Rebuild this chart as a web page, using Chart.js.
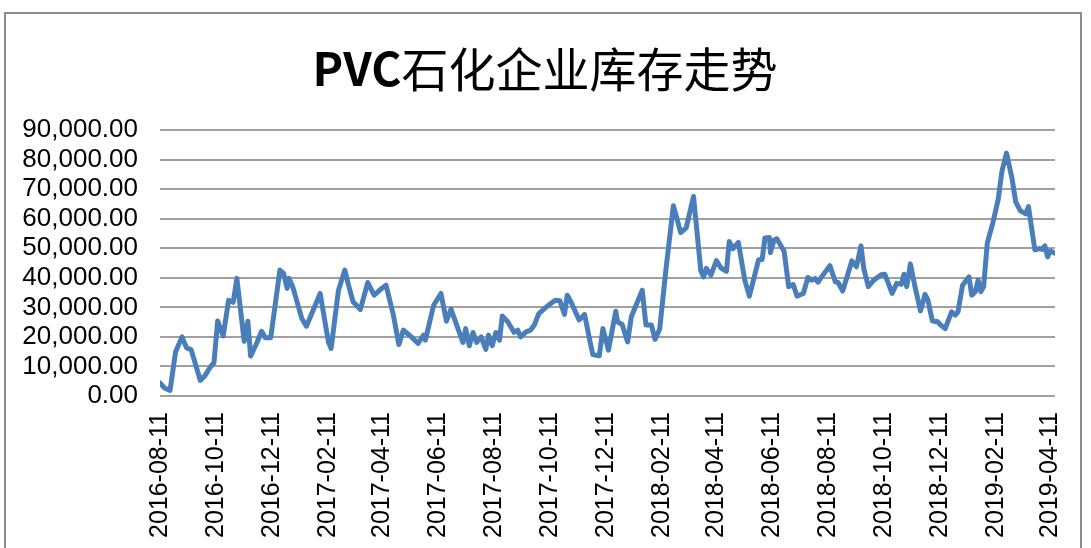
<!DOCTYPE html>
<html>
<head>
<meta charset="utf-8">
<script src="https://cdn.jsdelivr.net/npm/chart.js@4.4.0/dist/chart.umd.min.js"></script>
<style>
html, body { margin: 0; padding: 0; background: #fff; overflow: hidden; }
#wrap { position: relative; width: 1091px; height: 548px; }
#frame { position: absolute; left: 4px; top: 12px; width: 1078px; height: 600px; border: 2px solid #8c8c8c; box-sizing: border-box; }
canvas { position: absolute; left: 0; top: 0; }
</style>
</head>
<body>
<div id="wrap">
  <div id="frame"></div>
  <canvas id="inventoryChart" width="1091" height="548"></canvas>
</div>
<script>
const startDate = '2016-08-11';
// days after startDate
const dayOffsets = [0,5,11,17,24,29,34,44,49,55,59,63,69,75,80,84,92,96,99,106,111,115,121,131,135,139,141,145,155,160,
  175,184,187,195,202,206,211,219,227,234,241,247,255,261,266,274,282,288,290,299,307,313,318,331,334,338,342,346,351,356,
  359,363,367,371,374,380,387,391,394,400,405,409,414,421,427,432,437,442,445,449,458,464,470,473,480,484,490,498,500,505,
  511,515,527,531,537,541,546,553,561,569,575,583,591,594,597,602,608,613,619,622,626,632,639,644,648,654,658,661,666,667,
  671,674,682,687,692,696,703,708,712,716,719,723,732,738,741,746,756,761,766,769,774,780,788,792,800,805,810,813,816,820,
  825,831,836,839,844,850,853,858,865,869,872,877,884,887,891,894,897,900,904,910,916,920,925,931,935,940,946,949,956,961,
  964,967,970,973,978];
const inventory = [4400,2700,1900,14900,20000,16300,15700,5300,6800,9800,11300,25400,20300,32400,31700,39800,18500,25300,13500,18100,21900,19700,19700,42600,41500,36400,39800,37000,26200,23600,
  34700,18300,16100,35800,42600,37500,31900,29300,38400,34100,36100,37500,27400,17400,22300,20200,17800,20600,18900,30700,34700,25300,29400,18100,22800,17000,21500,18100,20000,15800,
  20600,17000,21500,18900,27100,25100,21500,22300,20000,21700,22300,24000,27900,29800,31300,32400,32200,27600,34100,31900,25700,27600,18300,14000,13600,22800,15500,28700,25100,24200,
  18300,26800,35800,24000,24000,19200,22600,43200,64400,55300,56900,67500,42300,40300,43200,40900,45800,43300,42200,52300,49800,52000,39200,33800,38600,46000,46200,53500,53600,48500,
  52800,53200,49000,37000,37700,33800,34700,40100,39200,39700,38500,40300,44100,38600,38400,35500,45700,43700,50800,43200,37000,39200,41000,41200,34700,38100,37800,41200,37000,44700,
  37000,28800,34400,32600,25400,25100,24000,22800,28500,27400,28500,37500,40300,34100,35300,39200,35300,37000,51700,58500,66600,76000,82200,73700,65800,62700,61600,64100,49400,49900,
  49600,50800,47100,49100,48300];
const tickDates = ['2016-08-11','2016-10-11','2016-12-11','2017-02-11','2017-04-11','2017-06-11','2017-08-11','2017-10-11','2017-12-11',
  '2018-02-11','2018-04-11','2018-06-11','2018-08-11','2018-10-11','2018-12-11','2019-02-11','2019-04-11'];

const dayMs = 86400000;
const toDay = d => Math.round((Date.parse(d) - Date.parse(startDate)) / dayMs);
const tickDays = tickDates.map(toDay);
const points = dayOffsets.map((d, i) => ({ x: d, y: inventory[i] }));

// title: bold "PVC" followed by regular Chinese text
const mixedTitle = {
  id: 'mixedTitle',
  afterDraw(chart) {
    const ctx = chart.ctx;
    const latin = 'PVC', cjk = '石化企业库存走势';
    const latinFont = 'bold 46px "Noto Sans CJK SC"';
    const cjkFont = '47px "Noto Sans CJK SC"';
    ctx.save();
    ctx.fillStyle = '#000';
    ctx.textBaseline = 'middle';
    ctx.textAlign = 'left';
    ctx.font = latinFont;
    const w1 = ctx.measureText(latin).width;
    ctx.font = cjkFont;
    const w2 = ctx.measureText(cjk).width;
    let x = 545 - (w1 + w2) / 2;
    ctx.font = latinFont;
    ctx.fillText(latin, x, 69);
    ctx.font = cjkFont;
    ctx.fillText(cjk, x + w1, 69);
    ctx.restore();
  }
};

const ctx = document.getElementById('inventoryChart').getContext('2d');
let inventoryChart = new Chart(ctx, {
  type: 'line',
  data: {
    datasets: [{
      label: 'PVC石化企业库存',
      data: points,
      borderColor: '#4a7ebb',
      borderWidth: 5,
      pointRadius: 0,
      tension: 0,
      borderJoinStyle: 'round',
      borderCapStyle: 'round'
    }]
  },
  options: {
    responsive: false,
    animation: false,
    layout: { padding: { top: 130, right: 36, bottom: 0, left: 0 } },
    plugins: {
      legend: { display: false },
      tooltip: { enabled: false }
    },
    scales: {
      x: {
        type: 'linear',
        min: 0,
        max: dayOffsets[dayOffsets.length - 1],
        afterBuildTicks: scale => { scale.ticks = tickDays.map(v => ({ value: v })); },
        afterFit: scale => { scale.height = 152; },
        grid: { display: false },
        border: { display: false },
        ticks: {
          autoSkip: false,
          minRotation: 90,
          maxRotation: 90,
          padding: 8,
          color: '#000',
          font: { family: 'Liberation Sans', size: 25 },
          callback: value => tickDates[tickDays.indexOf(value)]
        }
      },
      y: {
        min: 0,
        max: 90000,
        afterFit: scale => { scale.width = 160; },
        grid: { color: '#a0a0a0', lineWidth: 2, drawTicks: false },
        border: { display: false },
        ticks: {
          autoSkip: false,
          stepSize: 10000,
          padding: 22,
          color: '#000',
          font: { family: 'Liberation Sans', size: 26 },
          callback: v => v.toLocaleString('en-US', { minimumFractionDigits: 2, maximumFractionDigits: 2 })
        }
      }
    }
  },
  plugins: [mixedTitle]
});
</script>
</body>
</html>
